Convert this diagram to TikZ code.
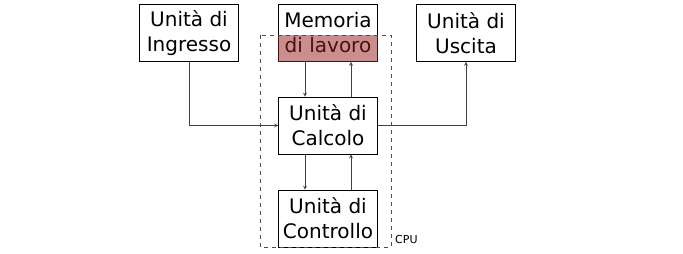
\documentclass[tikz,border=0pt]{standalone}
\usepackage{fontspec}
\setmainfont{DejaVu Sans}
\usepackage{tikz}
\usetikzlibrary{arrows,positioning,backgrounds}
\definecolor{memred}{RGB}{150,30,30}

\begin{document}
\begin{tikzpicture}[x=1pt, y=-1pt,
    unit/.style={rectangle, draw, line width=0.9pt, minimum width=99pt, minimum height=57pt,
      inner sep=0pt, align=center, font=\fontsize{20}{25}\selectfont},
    conn/.style={draw=black!75, line width=0.7pt, ->, >=stealth}]

    \useasboundingbox (0,0) rectangle (683,254);

    % Units
    \node[unit] (ingresso) at (189,33) {Unità di\\Ingresso};
    \node[unit] (memoria) at (328,33) {Memoria\\di lavoro};
    \node[unit] (uscita) at (466,33) {Unità di\\Uscita};
    \node[unit] (calcolo) at (328,125.5) {Unità di\\Calcolo};
    \node[unit] (controllo) at (328,218.5) {Unità di\\Controllo};

    % Working memory part inside the CPU
    \fill[memred, opacity=0.5] (memoria.west |- 0,35) rectangle (memoria.south east);

    % CPU
    \draw[black!70, dashed, line width=0.9pt, dash pattern=on 4pt off 4pt] (260,35) rectangle (391,247);
    \node[anchor=base west, inner sep=0pt, font=\fontsize{11}{13}\selectfont] (cpu) at (395,243) {CPU};

    % Data paths
    \draw[conn] (ingresso.south) |- (calcolo.west);
    \draw[conn] (calcolo.east) -| (uscita.south);
    \draw[conn] ([xshift=-23pt]memoria.south) -- ([xshift=-23pt]calcolo.north);
    \draw[conn] ([xshift=23pt]calcolo.north) -- ([xshift=23pt]memoria.south);
    \draw[conn] ([xshift=-23pt]calcolo.south) -- ([xshift=-23pt]controllo.north);
    \draw[conn] ([xshift=23pt]controllo.north) -- ([xshift=23pt]calcolo.south);

\end{tikzpicture}
\end{document}
